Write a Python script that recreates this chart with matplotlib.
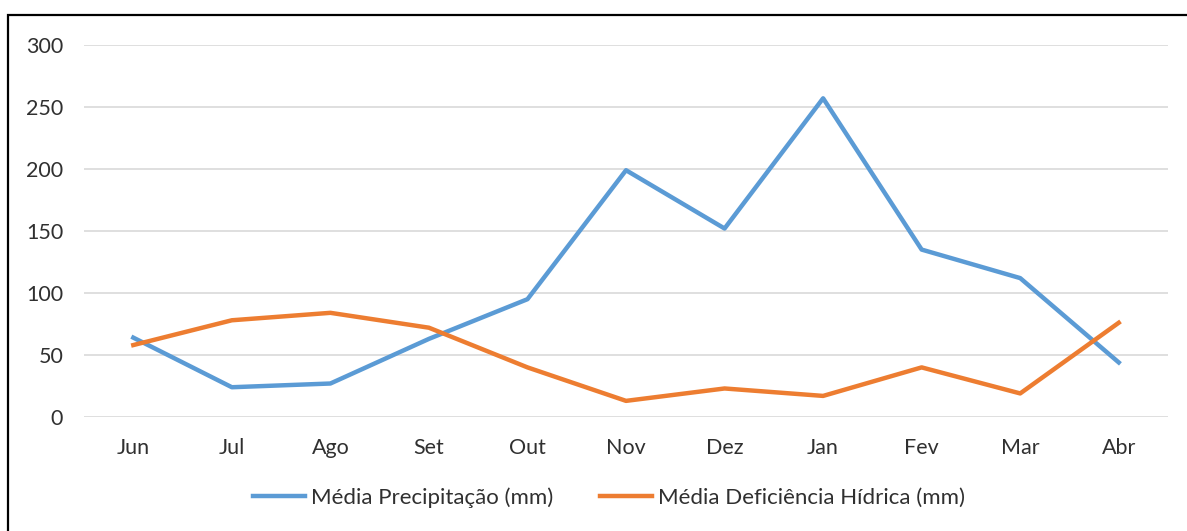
import matplotlib
matplotlib.use("Agg")
from matplotlib import pyplot as plt
from matplotlib.patches import Rectangle

# Monthly values
months = ["Jun", "Jul", "Ago", "Set", "Out", "Nov", "Dez", "Jan", "Fev", "Mar", "Abr"]
precipitacao = [64, 24, 27, 63, 95, 199, 152, 257, 135, 112, 44]
deficiencia = [58, 78, 84, 72, 40, 13, 23, 17, 40, 19, 76]
y_ticks = [0, 50, 100, 150, 200, 250, 300]

plt.rcParams["font.family"] = ["Lato", "DejaVu Sans"]
text_color = "#303030"

fig = plt.figure(figsize=(11.87, 5.31), dpi=100)
ax = fig.add_axes([0.0708, 0.2147, 0.9132, 0.7006])

x = range(len(months))
ax.plot(x, precipitacao, color="#5b9bd5", linewidth=3.2, label="Média Precipitação (mm)")
ax.plot(x, deficiencia, color="#ed7d31", linewidth=3.2, label="Média Deficiência Hídrica (mm)")

ax.set_xlim(-0.5, len(months) - 0.5)
ax.set_ylim(0, 300)
ax.set_xticks(list(x))
ax.set_xticklabels(months)
ax.set_yticks(y_ticks)
ax.tick_params(axis="both", length=0, labelsize=15.5, colors=text_color)
ax.tick_params(axis="x", pad=15)
ax.tick_params(axis="y", pad=15)
ax.grid(axis="y", color="#d9d9d9", linewidth=1.2)
ax.set_axisbelow(True)
for side in ax.spines.values():
    side.set_visible(False)

leg = fig.legend(loc="center", bbox_to_anchor=(0.513, 0.063), ncol=2, frameon=False,
                 fontsize=16, handlelength=2.35, handletextpad=0.25, columnspacing=2.1)
for t in leg.get_texts():
    t.set_color(text_color)

# chart border (only left and top visible in the crop)
fig.patches.append(Rectangle((8 / 1187, -0.1), 1.2, (531 - 15) / 531 + 0.1,
                             transform=fig.transFigure, fill=False,
                             edgecolor="black", linewidth=1.6))

fig.savefig("out.png", dpi=100)
